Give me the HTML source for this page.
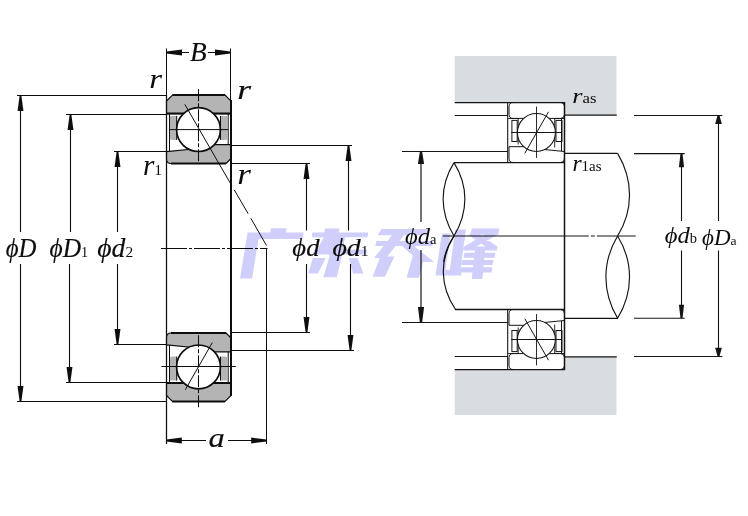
<!DOCTYPE html>
<html><head><meta charset="utf-8"><style>
html,body{margin:0;padding:0;background:#fff;width:748px;height:516px;overflow:hidden}
svg{display:block}
text{font-family:"Liberation Serif",serif}
</style></head><body><svg width="748" height="516" viewBox="0 0 748 516"><path d="M454.7 56H616.5V115H564V102.5H454.7Z" fill="#dadde0"/><path d="M454.7 415H616.5V357H564V369.5H454.7Z" fill="#dadde0"/><g transform="translate(166.5 95)"><path d="M0 6L6 0H58.5L64.5 6V18.6H0Z" fill="#b4b4b4" stroke="#0d0d0d" stroke-width="1.1"/><path d="M6 0H58.5M0.5 18.6H64" stroke="#0d0d0d" stroke-width="2"/><path d="M3 18.6V56.6M61.7 18.6V49.6" stroke="#0d0d0d" stroke-width="1" fill="none"/><path d="M3.5 20.9H10.2V44.9H5.5Q3.5 44.9 3.5 42.9Z" fill="#b4b4b4"/><path d="M10.2 20.9V44.9" stroke="#0d0d0d" stroke-width="1"/><path d="M54 20.9H60.9V42.9Q60.9 44.9 58.9 44.9H54Z" fill="#b4b4b4"/><path d="M54 20.9V44.9" stroke="#0d0d0d" stroke-width="1"/><path d="M0 56.6L31.9 53.5V49.6H64.5V63.5L59.5 68.5H4.5Q0 68.5 0 64Z" fill="#b4b4b4" stroke="#0d0d0d" stroke-width="1.1" stroke-linejoin="round"/><path d="M4.5 68.5H59.5" stroke="#0d0d0d" stroke-width="2"/><circle cx="32" cy="34.6" r="21.9" fill="#fff" stroke="#0d0d0d" stroke-width="1.7"/><path d="M2.8 34.6H61.7" stroke="#0d0d0d" stroke-width="1"/><path d="M32 -5.7V68.5" stroke="#0d0d0d" stroke-width="1.05" stroke-dasharray="12 2 4 2"/><path d="M18.3 9.3L50.9 65.9" stroke="#0d0d0d" stroke-width="1"/></g><g transform="translate(166.5 401.5) scale(1 -1)"><path d="M0 6L6 0H58.5L64.5 6V18.6H0Z" fill="#b4b4b4" stroke="#0d0d0d" stroke-width="1.1"/><path d="M6 0H58.5M0.5 18.6H64" stroke="#0d0d0d" stroke-width="2"/><path d="M3 18.6V56.6M61.7 18.6V49.6" stroke="#0d0d0d" stroke-width="1" fill="none"/><path d="M3.5 20.9H10.2V44.9H5.5Q3.5 44.9 3.5 42.9Z" fill="#b4b4b4"/><path d="M10.2 20.9V44.9" stroke="#0d0d0d" stroke-width="1"/><path d="M54 20.9H60.9V42.9Q60.9 44.9 58.9 44.9H54Z" fill="#b4b4b4"/><path d="M54 20.9V44.9" stroke="#0d0d0d" stroke-width="1"/><path d="M0 56.6L31.9 53.5V49.6H64.5V63.5L59.5 68.5H4.5Q0 68.5 0 64Z" fill="#b4b4b4" stroke="#0d0d0d" stroke-width="1.1" stroke-linejoin="round"/><path d="M4.5 68.5H59.5" stroke="#0d0d0d" stroke-width="2"/><circle cx="32" cy="34.6" r="21.9" fill="#fff" stroke="#0d0d0d" stroke-width="1.7"/><path d="M-5.1 35H69.3" stroke="#0d0d0d" stroke-width="1"/><path d="M32 -5.7V68.5" stroke="#0d0d0d" stroke-width="1.05" stroke-dasharray="12 2 4 2"/><path d="M18.8 11.8L45.8 58.9" stroke="#0d0d0d" stroke-width="1"/></g><g transform="translate(507.7 102.5)"><path d="M0 0V60" stroke="#141414" stroke-width="1.1"/><path d="M1.3 4Q1.3 0 5.3 0H53Q56.8 0 56.8 4V11.9Q56.8 15.9 52.8 15.9H5.3Q1.3 15.9 1.3 11.9Z" fill="#fff" stroke="#141414" stroke-width="1"/><path d="M0.5 16H10.5V42M56.8 16H47V45" fill="none" stroke="#141414" stroke-width="0.9"/><rect x="4.2" y="17.9" width="5.3" height="21.1" fill="#fff" stroke="#141414" stroke-width="1"/><rect x="48.3" y="17.9" width="6" height="21.1" fill="#fff" stroke="#141414" stroke-width="1"/><path d="M53.8 16V48.8" stroke="#141414" stroke-width="1"/><path d="M1.3 44.2H28.3V46.2L56.8 49V56Q56.8 60 52.8 60H5.3Q1.3 60 1.3 56Z" fill="#fff" stroke="#141414" stroke-width="1"/><circle cx="28.7" cy="30" r="19" fill="#fff" stroke="#141414" stroke-width="1.1"/><path d="M3.5 30H54.3" stroke="#141414" stroke-width="1"/><path d="M28.8 4.1V55.4" stroke="#141414" stroke-width="0.9"/><path d="M17.1 50.8L40.8 9.3" stroke="#141414" stroke-width="1"/></g><g transform="translate(507.7 369.5) scale(1 -1)"><path d="M0 0V60" stroke="#141414" stroke-width="1.1"/><path d="M1.3 4Q1.3 0 5.3 0H53Q56.8 0 56.8 4V11.9Q56.8 15.9 52.8 15.9H5.3Q1.3 15.9 1.3 11.9Z" fill="#fff" stroke="#141414" stroke-width="1"/><path d="M0.5 16H10.5V42M56.8 16H47V45" fill="none" stroke="#141414" stroke-width="0.9"/><rect x="4.2" y="17.9" width="5.3" height="21.1" fill="#fff" stroke="#141414" stroke-width="1"/><rect x="48.3" y="17.9" width="6" height="21.1" fill="#fff" stroke="#141414" stroke-width="1"/><path d="M53.8 16V48.8" stroke="#141414" stroke-width="1"/><path d="M1.3 44.2H28.3V46.2L56.8 49V56Q56.8 60 52.8 60H5.3Q1.3 60 1.3 56Z" fill="#fff" stroke="#141414" stroke-width="1"/><circle cx="28.7" cy="30" r="19" fill="#fff" stroke="#141414" stroke-width="1.1"/><path d="M3.5 30H54.3" stroke="#141414" stroke-width="1"/><path d="M28.8 4.1V55.4" stroke="#141414" stroke-width="0.9"/><path d="M17.1 50.8L40.8 9.3" stroke="#141414" stroke-width="1"/></g><path d="M166.5 48.5L166.5 95" stroke="#0d0d0d" stroke-width="1" fill="none"/><path d="M230.5 48.5L230.5 100" stroke="#0d0d0d" stroke-width="1" fill="none"/><path d="M166.5 95L166.5 444" stroke="#0d0d0d" stroke-width="1.25" fill="none"/><path d="M231 100L231 396" stroke="#0d0d0d" stroke-width="2" fill="none"/><path d="M182 52.5L189 52.5" stroke="#0d0d0d" stroke-width="1" fill="none"/><path d="M208 52.5L215 52.5" stroke="#0d0d0d" stroke-width="1" fill="none"/><path d="M166.5 51.4L166.5 53.6L182 55.4L182 49.6Z" fill="#0d0d0d"/><path d="M230.5 51.4L230.5 53.6L215 55.4L215 49.6Z" fill="#0d0d0d"/><path d="M266.5 249L266.5 444" stroke="#0d0d0d" stroke-width="1" fill="none"/><path d="M180 440.5L206 440.5" stroke="#0d0d0d" stroke-width="1" fill="none"/><path d="M228 440.5L252 440.5" stroke="#0d0d0d" stroke-width="1" fill="none"/><path d="M166.5 439.4L166.5 441.6L181.8 443.4L181.8 437.6Z" fill="#0d0d0d"/><path d="M266.5 439.4L266.5 441.6L251.2 443.4L251.2 437.6Z" fill="#0d0d0d"/><path d="M161 248.5L267.5 248.5" stroke="#0d0d0d" stroke-width="1.05" fill="none" stroke-dasharray="26 2 3 2"/><path d="M217.4 160.9L231.6 185.3" stroke="#0d0d0d" stroke-width="1" fill="none"/><path d="M234.2 189.8L248.1 213.6" stroke="#0d0d0d" stroke-width="1" fill="none"/><path d="M250.8 218.3L266.5 245.5" stroke="#0d0d0d" stroke-width="1" fill="none"/><path d="M17 95.5L166.5 95.5" stroke="#0d0d0d" stroke-width="1.1" fill="none"/><path d="M17 401.5L166.5 401.5" stroke="#0d0d0d" stroke-width="1.1" fill="none"/><path d="M20.5 105.5L20.5 232" stroke="#0d0d0d" stroke-width="1.1" fill="none"/><path d="M20.5 264L20.5 391.5" stroke="#0d0d0d" stroke-width="1.1" fill="none"/><path d="M19.65 95.5L21.35 95.5L23.45 111L17.55 111Z" fill="#0d0d0d"/><path d="M19.65 401.5L21.35 401.5L23.45 386L17.55 386Z" fill="#0d0d0d"/><path d="M66 114.5L166.5 114.5" stroke="#0d0d0d" stroke-width="1.1" fill="none"/><path d="M66 382.5L166.5 382.5" stroke="#0d0d0d" stroke-width="1.1" fill="none"/><path d="M70.5 124.5L70.5 232" stroke="#0d0d0d" stroke-width="1.1" fill="none"/><path d="M69.5 264L69.5 372.5" stroke="#0d0d0d" stroke-width="1.1" fill="none"/><path d="M69.65 114.5L71.35 114.5L73.45 130L67.55 130Z" fill="#0d0d0d"/><path d="M68.65 382.5L70.35 382.5L72.45 367L66.55 367Z" fill="#0d0d0d"/><path d="M114 151.5L166.5 151.5" stroke="#0d0d0d" stroke-width="1.1" fill="none"/><path d="M114 344.5L166.5 344.5" stroke="#0d0d0d" stroke-width="1.1" fill="none"/><path d="M117.5 161.5L117.5 232" stroke="#0d0d0d" stroke-width="1.1" fill="none"/><path d="M117.5 264L117.5 334.5" stroke="#0d0d0d" stroke-width="1.1" fill="none"/><path d="M116.65 151.5L118.35 151.5L120.45 167L114.55 167Z" fill="#0d0d0d"/><path d="M116.65 344.5L118.35 344.5L120.45 329L114.55 329Z" fill="#0d0d0d"/><path d="M231 163.5L310 163.5" stroke="#0d0d0d" stroke-width="1.1" fill="none"/><path d="M231 332.5L310 332.5" stroke="#0d0d0d" stroke-width="1.1" fill="none"/><path d="M306.5 173.5L306.5 230.5" stroke="#0d0d0d" stroke-width="1.1" fill="none"/><path d="M306.5 264L306.5 322.5" stroke="#0d0d0d" stroke-width="1.1" fill="none"/><path d="M305.65 163.5L307.35 163.5L309.45 179L303.55 179Z" fill="#0d0d0d"/><path d="M305.65 332.5L307.35 332.5L309.45 317L303.55 317Z" fill="#0d0d0d"/><path d="M231 145.5L352 145.5" stroke="#0d0d0d" stroke-width="1.1" fill="none"/><path d="M231 350.5L354 350.5" stroke="#0d0d0d" stroke-width="1.1" fill="none"/><path d="M348.5 155.5L348.5 230.5" stroke="#0d0d0d" stroke-width="1.1" fill="none"/><path d="M350.5 264L350.5 340.5" stroke="#0d0d0d" stroke-width="1.1" fill="none"/><path d="M347.65 145.5L349.35 145.5L351.45 161L345.55 161Z" fill="#0d0d0d"/><path d="M349.65 350.5L351.35 350.5L353.45 335L347.55 335Z" fill="#0d0d0d"/><path d="M454.7 102.5L564.5 102.5" stroke="#141414" stroke-width="1.25" fill="none"/><path d="M564 115.2L616.8 115.2" stroke="#141414" stroke-width="1.25" fill="none"/><path d="M454.7 115.5L508 115.5" stroke="#141414" stroke-width="1.1" fill="none"/><path d="M402 151.5L508 151.5" stroke="#141414" stroke-width="1.1" fill="none"/><path d="M454 162.5L564.5 162.5" stroke="#141414" stroke-width="1.25" fill="none"/><path d="M564.5 153.4L617.6 153.4" stroke="#141414" stroke-width="1.25" fill="none"/><path d="M564.5 102L564.5 370" stroke="#141414" stroke-width="1.5" fill="none"/><path d="M454.7 369.5L564.5 369.5" stroke="#141414" stroke-width="1.25" fill="none"/><path d="M564 356.8L616.8 356.8" stroke="#141414" stroke-width="1.25" fill="none"/><path d="M454.7 356.5L508 356.5" stroke="#141414" stroke-width="1.1" fill="none"/><path d="M402 322.5L508 322.5" stroke="#141414" stroke-width="1.1" fill="none"/><path d="M455 309.5L564.5 309.5" stroke="#141414" stroke-width="1.35" fill="none"/><path d="M564.5 318.3L617.6 318.3" stroke="#141414" stroke-width="1.25" fill="none"/><path d="M454 162.6C439.5 186 439.5 212 454 236C468.5 212 468.5 186 454 162.6" fill="none" stroke="#141414" stroke-width="1.15"/><path d="M454 236C439.5 259 439.5 286 455.5 309.5" fill="none" stroke="#141414" stroke-width="1.15"/><path d="M454 236C448 245 445 252 443.6 262" fill="none" stroke="#141414" stroke-width="1.15"/><path d="M617.6 153.4C633.5 180 633.5 210 617.6 236" fill="none" stroke="#141414" stroke-width="1.15"/><path d="M617.6 236C602 262 602 292 617.6 318.3C633.5 292 633.5 262 617.6 236" fill="none" stroke="#141414" stroke-width="1.15"/><path d="M442.8 236L635.7 236" stroke="#141414" stroke-width="1.2" fill="none" stroke-dasharray="146 2 4 2 46"/><path d="M634 115.5L722.3 115.5" stroke="#141414" stroke-width="1.1" fill="none"/><path d="M634 153.6L684.7 153.6" stroke="#141414" stroke-width="1.1" fill="none"/><path d="M634 318.3L684.7 318.3" stroke="#141414" stroke-width="1.1" fill="none"/><path d="M634 356.5L722.3 356.5" stroke="#141414" stroke-width="1.1" fill="none"/><path d="M718.5 120.5L718.5 221" stroke="#141414" stroke-width="1.1" fill="none"/><path d="M718.5 250.4L718.5 351.3" stroke="#141414" stroke-width="1.1" fill="none"/><path d="M717.5 115.5L719.5 115.5L721.85 124.1L715.15 124.1Z" fill="#141414"/><path d="M717.5 356.3L719.5 356.3L721.85 347.7L715.15 347.7Z" fill="#141414"/><path d="M681.5 158.6L681.5 221" stroke="#141414" stroke-width="1.1" fill="none"/><path d="M681.5 250.4L681.5 313.3" stroke="#141414" stroke-width="1.1" fill="none"/><path d="M680.5 153.6L682.5 153.6L684.1 167.2L678.9 167.2Z" fill="#141414"/><path d="M680.5 318.3L682.5 318.3L684.1 304.7L678.9 304.7Z" fill="#141414"/><path d="M421 158L421 222" stroke="#141414" stroke-width="1.2" fill="none"/><path d="M421 250L421 315" stroke="#141414" stroke-width="1.2" fill="none"/><path d="M419.9 151.5L422.1 151.5L424.1 164.1L417.9 164.1Z" fill="#141414"/><path d="M419.9 322.5L422.1 322.5L424.1 306.9L417.9 306.9Z" fill="#141414"/><text transform="translate(190.00 61.00) scale(1.019 1)" fill="#0d0d0d" font-family="Liberation Serif"><tspan font-size="26.79" font-style="italic" stroke="#0d0d0d" stroke-width="0.15" dx="0.00">B</tspan></text><text transform="translate(149.23 88.20) scale(1.170 1)" fill="#0d0d0d" font-family="Liberation Serif"><tspan font-size="28.11" font-style="italic" dx="0.00">r</tspan></text><text transform="translate(237.37 98.70) scale(1.333 1)" fill="#0d0d0d" font-family="Liberation Serif"><tspan font-size="26.59" font-style="italic" stroke="#0d0d0d" stroke-width="0.15" dx="0.00">r</tspan></text><text transform="translate(142.98 175.40) scale(1.019 1)" fill="#0d0d0d" font-family="Liberation Serif"><tspan font-size="28.64" font-style="italic" dx="0.00">r</tspan><tspan font-size="15.42" font-style="normal" dx="0.00">1</tspan></text><text transform="translate(237.27 183.60) scale(1.230 1)" fill="#0d0d0d" font-family="Liberation Serif"><tspan font-size="28.50" font-style="italic" dx="0.00">r</tspan></text><text transform="translate(5.71 257.10) scale(0.891 1)" fill="#0d0d0d" font-family="Liberation Serif"><tspan font-size="27.83" font-style="italic" stroke="#0d0d0d" stroke-width="0.15" dx="0.00">ϕD</tspan></text><text transform="translate(49.56 257.30) scale(0.936 1)" fill="#0d0d0d" font-family="Liberation Serif"><tspan font-size="27.17" font-style="italic" stroke="#0d0d0d" stroke-width="0.15" dx="0.00">ϕD</tspan><tspan font-size="15.22" font-style="normal" dx="0.00">1</tspan></text><text transform="translate(97.28 257.30) scale(1.018 1)" fill="#0d0d0d" font-family="Liberation Serif"><tspan font-size="27.17" font-style="italic" stroke="#0d0d0d" stroke-width="0.15" dx="0.00">ϕd</tspan><tspan font-size="15.22" font-style="normal" dx="0.00">2</tspan></text><text transform="translate(292.37 256.40) scale(1.027 1)" fill="#0d0d0d" font-family="Liberation Serif"><tspan font-size="25.89" font-style="italic" stroke="#0d0d0d" stroke-width="0.15" dx="0.00">ϕd</tspan></text><text transform="translate(332.42 256.40) scale(1.077 1)" fill="#0d0d0d" font-family="Liberation Serif"><tspan font-size="25.89" font-style="italic" stroke="#0d0d0d" stroke-width="0.15" dx="0.00">ϕd</tspan><tspan font-size="14.50" font-style="normal" dx="0.00">1</tspan></text><text transform="translate(208.50 447.00) scale(1.200 1)" fill="#0d0d0d" font-family="Liberation Serif"><tspan font-size="27.08" font-style="italic" stroke="#0d0d0d" stroke-width="0.15" dx="0.00">a</tspan></text><text transform="translate(405.05 243.80) scale(1.054 1)" fill="#0d0d0d" font-family="Liberation Serif"><tspan font-size="23.27" font-style="italic" dx="0.00">ϕd</tspan><tspan font-size="13.75" font-style="normal" dx="0.00">a</tspan></text><text transform="translate(664.67 243.40) scale(1.027 1)" fill="#0d0d0d" font-family="Liberation Serif"><tspan font-size="23.92" font-style="italic" dx="0.00">ϕd</tspan><tspan font-size="14.14" font-style="normal" dx="0.00">b</tspan></text><text transform="translate(701.98 244.50) scale(1.025 1)" fill="#0d0d0d" font-family="Liberation Serif"><tspan font-size="22.45" font-style="italic" dx="0.00">ϕD</tspan><tspan font-size="13.26" font-style="normal" dx="0.00">a</tspan></text><text transform="translate(572.26 102.60) scale(1.239 1)" fill="#0d0d0d" font-family="Liberation Serif"><tspan font-size="21.22" font-style="italic" dx="0.00">r</tspan><tspan font-size="13.51" font-style="normal" dx="0.00">as</tspan></text><text transform="translate(572.44 171.30) scale(1.058 1)" fill="#0d0d0d" font-family="Liberation Serif"><tspan font-size="22.27" font-style="italic" dx="0.00">r</tspan><tspan font-size="14.17" font-style="normal" dx="0.00">1as</tspan></text><g style="mix-blend-mode:multiply"><path fill="#d0cefa" d="M270.9 228.2L286.6 228.2L286 232.6L270.3 232.6ZM247.6 232.6L303.6 232.6L302.6 238.9L246.6 238.9ZM247.6 232.6L259.6 232.6L252 278.6L240 278.6ZM325 228.4L339.5 228.4L338.7 232.5L324.2 232.5ZM312.4 232.4L368.3 232.4L367.6 237.2L311.7 237.2ZM324 237L337 237L330 250L317 250ZM314 249.6L367 249.6L366.3 254.6L313.3 254.6ZM333 237L345 237L341.4 258L336.7 277.2L323.3 277.2L329 258ZM312.9 258L325.7 258L318 273.5L308.2 273.5ZM348.9 258L357.6 258L363.5 273.5L353 273.5ZM381.5 229L427 229L426 235.2L377.5 235.2ZM376.5 240.9L433 240.9L432.3 245.9L375.3 245.9ZM392 235.2L404 235.2L386 258L374 258ZM380.4 256.6L394.4 256.6L384.9 276.8L372.5 276.8ZM413 255L425 255L419 277.7L406.6 277.7ZM402 246L414 246L434 262L420 262ZM441.9 233.6L450.6 233.6L444.5 275.5L435.5 275.5ZM455.3 229.6L466 229.6L459.5 275.5L449 275.5ZM437 269.7L462 269.7L461 275.5L435.5 275.5ZM472 228.5L499.3 228.5L498.3 234.7L470 234.7ZM468 234.7L480 234.7L497.5 246.5L485.5 246.5ZM485 234.7L497.5 234.7L476 246.5L464 246.5ZM464 246.5L497.5 246.5L496.7 250.4L463.2 250.4ZM464.5 252.7L495.5 252.7L494.5 257.7L463.5 257.7ZM462 260L493.5 260L492.5 265L461 265ZM459.5 267.3L492.5 267.3L491.5 272.4L458.5 272.4ZM475 250L485 250L482.4 279L471.7 279Z"/></g></svg></body></html>
